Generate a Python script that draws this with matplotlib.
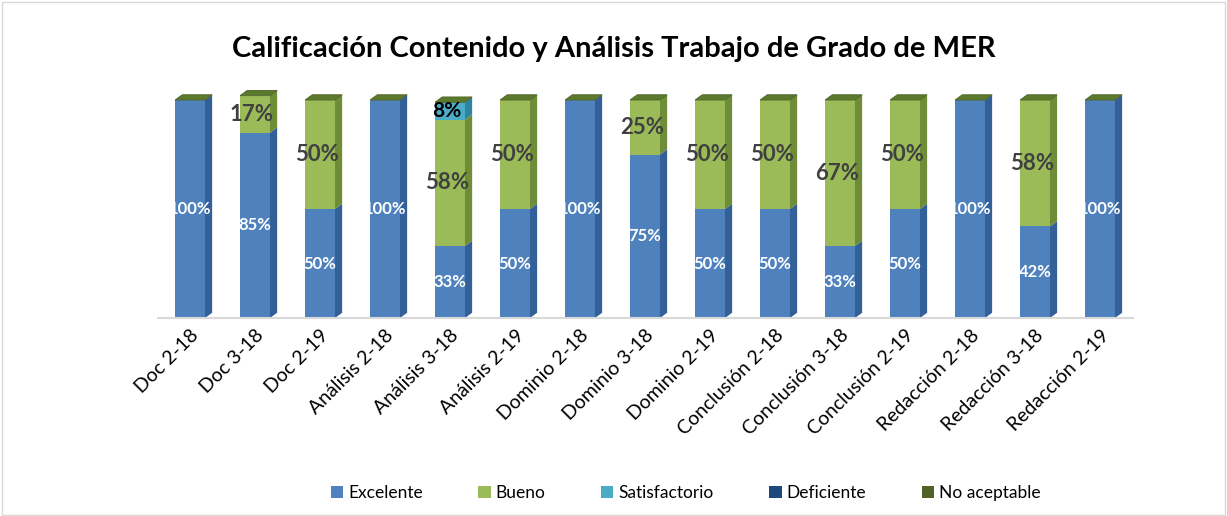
import matplotlib.pyplot as plt
from matplotlib.patches import Polygon, Rectangle

plt.rcParams['font.family'] = ['Lato', 'DejaVu Sans']

# data (percent)
categories = ['Doc 2-18', 'Doc 3-18', 'Doc 2-19', 'Análisis 2-18', 'Análisis 3-18',
              'Análisis 2-19', 'Dominio 2-18', 'Dominio 3-18', 'Dominio 2-19',
              'Conclusión 2-18', 'Conclusión 3-18', 'Conclusión 2-19',
              'Redacción 2-18', 'Redacción 3-18', 'Redacción 2-19']
excelente = [100, 85, 50, 100, 33, 50, 100, 75, 50, 50, 33, 50, 100, 42, 100]
bueno = [0, 17, 50, 0, 58, 50, 0, 25, 50, 50, 67, 50, 0, 58, 0]
satisfactorio = [0, 0, 0, 0, 8, 0, 0, 0, 0, 0, 0, 0, 0, 0, 0]
deficiente = [0] * 15
no_aceptable = [0] * 15

series = [
    ('Excelente', excelente, '#4F81BD', '#34609A'),
    ('Bueno', bueno, '#9BBB59', '#6F8C36'),
    ('Satisfactorio', satisfactorio, '#4BACC6', '#2C86A0'),
    ('Deficiente', deficiente, '#1F497D', '#163658'),
    ('No aceptable', no_aceptable, '#4F6228', '#3F4F20'),
]

fig = plt.figure(figsize=(12.27, 5.16), dpi=100)
fig.patches.append(Rectangle((0.002, 0.002), 0.996, 0.994, transform=fig.transFigure,
                             fill=False, edgecolor='#D9D9D9', linewidth=1))
ax = fig.add_axes([0.1284, 0.3837, 0.7946, 0.4225])

width = 0.46
dx = 0.11   # depth in x (data units)
dy = 2.4    # depth in y (data units)

x = list(range(len(categories)))
bottoms = [0] * len(categories)
for name, vals, face, side in series:
    bars = ax.bar(x, vals, width, bottom=bottoms, color=face, edgecolor='none',
                  label=name, zorder=2)
    for r in bars:
        r.set_clip_on(False)
    for i, v in enumerate(vals):
        if v <= 0:
            continue
        x1 = i + width / 2
        b = bottoms[i]
        ax.add_patch(Polygon([(x1, b), (x1 + dx, b + dy), (x1 + dx, b + v + dy), (x1, b + v)],
                             closed=True, facecolor=side, edgecolor='none', zorder=2,
                             clip_on=False))
    bottoms = [b + v for b, v in zip(bottoms, vals)]

# top caps (dark green)
for i, top in enumerate(bottoms):
    x0 = i - width / 2
    x1 = i + width / 2
    ax.add_patch(Polygon([(x0, top), (x0 + dx, top + dy), (x1 + dx, top + dy), (x1, top)],
                         closed=True, facecolor='#5C7A2C', edgecolor='#4F6228',
                         linewidth=0.6, zorder=3, clip_on=False))

# data labels
for i in x:
    if excelente[i] > 0:
        ax.text(i, excelente[i] / 2, f'{excelente[i]}%', ha='center', va='center',
                color='white', fontsize=12, fontweight='bold', zorder=4)
    if bueno[i] > 0:
        ax.text(i - 0.05, excelente[i] + bueno[i] / 2, f'{bueno[i]}%', ha='center',
                va='center', color='#404040', fontsize=16, fontweight='bold', zorder=4)
    if satisfactorio[i] > 0:
        ax.text(i - 0.05, excelente[i] + bueno[i] + satisfactorio[i] / 2,
                f'{satisfactorio[i]}%', ha='center', va='center', color='black',
                fontsize=15, fontweight='bold', zorder=4)

ax.set_xlim(-0.5, 14.5)
ax.set_ylim(0, 100)
ax.set_yticks([])
ax.set_xticks(x)
ax.set_xticklabels(categories, rotation=45, ha='right', rotation_mode='anchor',
                   fontsize=14)
ax.tick_params(axis='x', length=0, pad=6)
for s in ['top', 'right', 'left']:
    ax.spines[s].set_visible(False)
ax.spines['bottom'].set_color('#D9D9D9')
ax.spines['bottom'].set_linewidth(1.5)

fig.text(0.5, 0.905, 'Calificación Contenido y Análisis Trabajo de Grado de MER',
         ha='center', va='center', fontsize=21, fontweight='bold')

fig.legend(loc='center', bbox_to_anchor=(0.559, 0.045), ncol=5, frameon=False,
           fontsize=12.5, handlelength=0.7, handleheight=0.7, columnspacing=3.2,
           handletextpad=0.3)

fig.savefig('out.png', dpi=100)
